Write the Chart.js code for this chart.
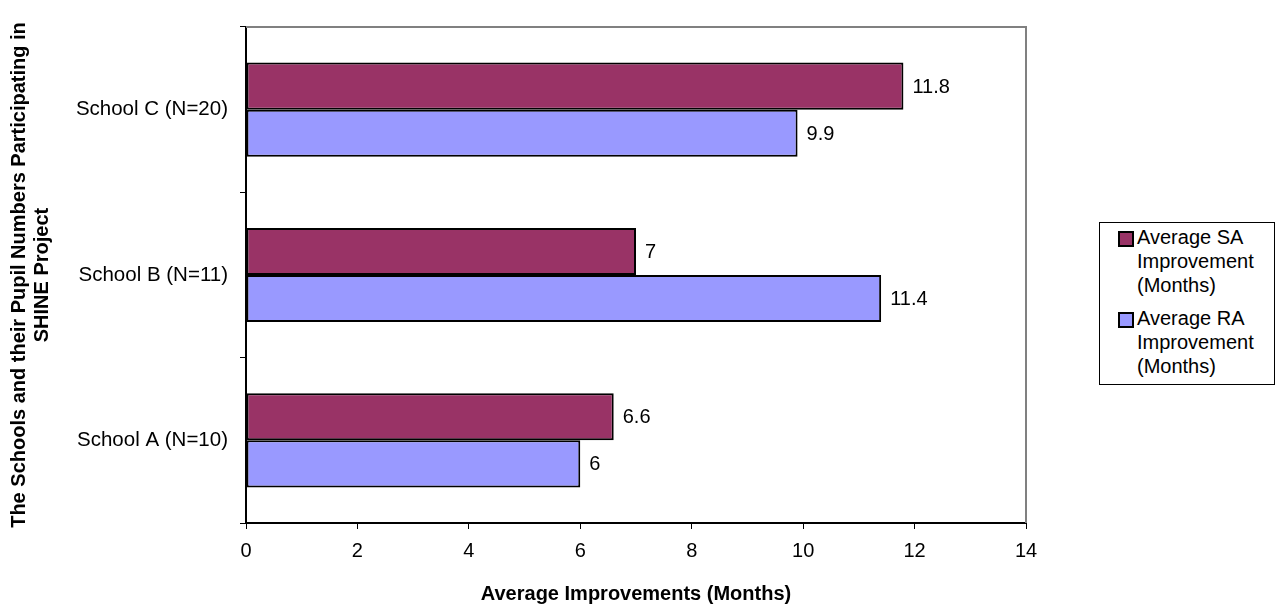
<!DOCTYPE html>
<html>
<head>
<meta charset="utf-8">
<script src="https://cdn.jsdelivr.net/npm/chart.js@4"></script>
<style>
  html, body { margin: 0; padding: 0; background: #fff; }
  #wrap { position: relative; width: 1277px; height: 608px; }
  #legend {
    position: absolute; left: 1099px; top: 222px; width: 176px; height: 163px;
    border: 1px solid #000; background: #fff;
    font: 20px "Liberation Sans", Arial, sans-serif; color: #000;
    padding: 2px 0 0 0; box-sizing: border-box;
  }
  .item { display: flex; align-items: flex-start; margin: 0 0 9px 18px; line-height: 24px; }
  .sw { width: 12px; height: 12px; border: 2px solid #000; margin: 6px 3px 0 0; flex: none; }
</style>
</head>
<body>
<div id="wrap">
  <canvas id="chart" width="1277" height="608"></canvas>
  <div id="legend"></div>
</div>
<script>
const schools = ["School C (N=20)", "School B (N=11)", "School A (N=10)"];
const saImprovement = [11.8, 7, 6.6];
const raImprovement = [9.9, 11.4, 6];
const seriesNames = [
  ["Average SA", "Improvement", "(Months)"],
  ["Average RA", "Improvement", "(Months)"]
];
const xTicks = [0, 2, 4, 6, 8, 10, 12, 14];

const font = "'Liberation Sans', Arial, sans-serif";

// numbers at the bar ends
const barLabels = {
  id: 'barLabels',
  afterDatasetsDraw(chart) {
    const ctx = chart.ctx;
    ctx.save();
    ctx.font = "20px " + font;
    ctx.fillStyle = "#000";
    ctx.textBaseline = "middle";
    chart.data.datasets.forEach((ds, i) => {
      chart.getDatasetMeta(i).data.forEach((bar, j) => {
        ctx.fillText(String(ds.data[j]), bar.x + 9, bar.y + 1);
      });
    });
    ctx.restore();
  }
};

// grey frame on top and right of the plot area
const frame = {
  id: 'frame',
  beforeDatasetsDraw(chart) {
    const a = chart.chartArea, ctx = chart.ctx;
    ctx.save();
    ctx.strokeStyle = "#808080";
    ctx.lineWidth = 2;
    ctx.beginPath();
    ctx.moveTo(a.left, a.top);
    ctx.lineTo(a.right, a.top);
    ctx.lineTo(a.right, a.bottom);
    ctx.stroke();
    ctx.restore();
  }
};

const chart = new Chart(document.getElementById('chart'), {
  type: 'bar',
  data: {
    labels: schools,
    datasets: [
      {
        label: seriesNames[0].join(" "),
        data: saImprovement,
        backgroundColor: '#993366',
        borderColor: '#000',
        borderWidth: 2,
        borderSkipped: false
      },
      {
        label: seriesNames[1].join(" "),
        data: raImprovement,
        backgroundColor: '#9999FF',
        borderColor: '#000',
        borderWidth: 2,
        borderSkipped: false
      }
    ]
  },
  options: {
    indexAxis: 'y',
    responsive: false,
    animation: false,
    devicePixelRatio: 1,
    categoryPercentage: 0.57,
    barPercentage: 1,
    layout: { padding: { left: 8, top: 27, right: 251, bottom: 2 } },
    plugins: {
      legend: { display: false },
      tooltip: { enabled: false }
    },
    scales: {
      x: {
        min: 0,
        max: 14,
        afterBuildTicks: s => { s.ticks = xTicks.map(v => ({ value: v })); },
        grid: { drawOnChartArea: false, color: '#000', tickLength: 6, tickWidth: 1 },
        border: { color: '#000', width: 2 },
        ticks: { color: '#000', font: { family: font, size: 20 }, padding: 10 },
        title: {
          display: true,
          text: 'Average Improvements (Months)',
          color: '#000',
          font: { family: font, size: 20, weight: 'bold' },
          padding: { top: 14, bottom: 0 }
        },
        afterFit: s => { s.height = 608 - 523 - 2; }
      },
      y: {
        grid: { offset: true, drawOnChartArea: false, color: '#000', tickLength: 6, tickWidth: 1 },
        border: { color: '#000', width: 2 },
        ticks: { color: '#000', font: { family: font, size: 20.5 }, padding: 12 },
        title: {
          display: true,
          text: ['The Schools and their Pupil Numbers Participating in', 'SHINE Project'],
          color: '#000',
          font: { family: font, size: 20, weight: 'bold', lineHeight: 1.15 },
          padding: { top: 0, bottom: 4 }
        },
        afterFit: s => { s.width = 246 - 8; }
      }
    }
  },
  plugins: [frame, barLabels]
});

// legend box
const legend = document.getElementById('legend');
chart.data.datasets.forEach((ds, i) => {
  const item = document.createElement('div');
  item.className = 'item';
  const sw = document.createElement('div');
  sw.className = 'sw';
  sw.style.background = ds.backgroundColor;
  const txt = document.createElement('div');
  txt.innerHTML = seriesNames[i].join('<br>');
  item.appendChild(sw);
  item.appendChild(txt);
  legend.appendChild(item);
});
</script>
</body>
</html>
